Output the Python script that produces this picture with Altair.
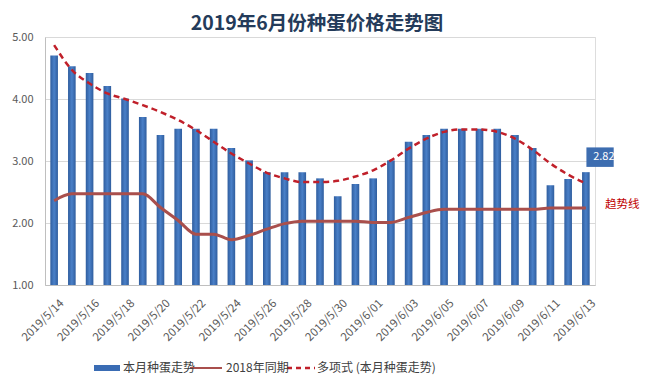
import altair as alt
import pandas as pd

dates = ["2019/5/14", "2019/5/15", "2019/5/16", "2019/5/17", "2019/5/18", "2019/5/19",
         "2019/5/20", "2019/5/21", "2019/5/22", "2019/5/23", "2019/5/24", "2019/5/25",
         "2019/5/26", "2019/5/27", "2019/5/28", "2019/5/29", "2019/5/30", "2019/5/31",
         "2019/6/01", "2019/6/02", "2019/6/03", "2019/6/04", "2019/6/05", "2019/6/06",
         "2019/6/07", "2019/6/08", "2019/6/09", "2019/6/10", "2019/6/11", "2019/6/12",
         "2019/6/13"]
this_month = [4.70, 4.53, 4.42, 4.21, 4.01, 3.71, 3.42, 3.52, 3.52, 3.52, 3.21, 3.01,
              2.82, 2.82, 2.82, 2.72, 2.43, 2.63, 2.72, 3.01, 3.31, 3.42, 3.52, 3.52,
              3.52, 3.52, 3.42, 3.21, 2.61, 2.71, 2.82]
last_year = [2.36, 2.47, 2.47, 2.47, 2.47, 2.47, 2.25, 2.04, 1.82, 1.82, 1.73, 1.80,
             1.90, 1.99, 2.03, 2.03, 2.03, 2.03, 2.01, 2.01, 2.09, 2.17, 2.22, 2.22,
             2.22, 2.22, 2.22, 2.22, 2.24, 2.24, 2.24]
trend = [4.87, 4.47, 4.25, 4.09, 4.00, 3.90, 3.79, 3.66, 3.50, 3.31, 3.12, 2.96,
         2.81, 2.72, 2.66, 2.66, 2.68, 2.75, 2.85, 3.01, 3.20, 3.36, 3.47, 3.51,
         3.51, 3.47, 3.36, 3.18, 2.96, 2.78, 2.64]
tick_labels = dates[::2]
y_ticks = [1.0, 1.5, 2.0, 2.5, 3.0, 3.5, 4.0, 4.5, 5.0]
title_text = "2019年6月份种蛋价格走势图"
legend_names = ["本月种蛋走势", "2018年同期", "多项式 (本月种蛋走势)"]

df = pd.DataFrame({"date": dates, "price": this_month, "ly": last_year, "trend": trend})

FONT = "Noto Sans CJK SC"
W, H = 550, 248

xenc = alt.X("date:N", sort=None,
             scale=alt.Scale(paddingInner=0.57, paddingOuter=0.3),
             axis=alt.Axis(title=None, values=tick_labels, labelAngle=-45,
                           labelFontSize=11.5, labelColor="#595959", labelFont=FONT,
                           ticks=False, domainColor="#BFBFBF", labelPadding=12,
                           labelOffset=4))
yscale = alt.Scale(domain=[1, 5], nice=False, zero=False)

base = alt.Chart(df)

bars = base.mark_bar(
    color=alt.Gradient(gradient="linear", x1=0, x2=1, y1=0, y2=0,
                       stops=[alt.GradientStop(color="#2F5D9E", offset=0),
                              alt.GradientStop(color="#4A80C8", offset=0.5),
                              alt.GradientStop(color="#2F5D9E", offset=1)])
).encode(
    x=xenc,
    y=alt.Y("price:Q", scale=yscale,
            axis=alt.Axis(title=None, values=y_ticks, format=".2f", labelFontSize=11,
                          labelColor="#595959", labelFont=FONT, ticks=False,
                          domainColor="#BFBFBF", gridColor="#D9D9D9", labelPadding=12)),
    y2=alt.datum(1),
)

ly_line = base.mark_line(color="#A94F4C", strokeWidth=3, interpolate="monotone").encode(
    x=alt.X("date:N", sort=None), y=alt.Y("ly:Q", scale=yscale))

trend_line = base.mark_line(color="#C0202A", strokeWidth=2.5, strokeDash=[6, 4],
                            interpolate="monotone").encode(
    x=alt.X("date:N", sort=None), y=alt.Y("trend:Q", scale=yscale))

last = df.tail(1)
label_box = alt.Chart(last).mark_point(
    shape="M-1.4,-1L1.4,-1L1.4,1L-1.4,1Z", filled=True, opacity=1,
    color="#3D6DB0", size=380).encode(
    x=alt.X("date:N", sort=None), y=alt.Y("price:Q", scale=yscale),
    xOffset=alt.value(18), yOffset=alt.value(-15))
label_text = alt.Chart(last).mark_text(color="white", fontSize=11, font=FONT, dx=18, dy=-15).encode(
    x=alt.X("date:N", sort=None), y=alt.Y("price:Q", scale=yscale),
    text=alt.Text("price:Q", format=".2f"))

trend_note = alt.Chart(pd.DataFrame({"t": ["趋势线"]})).mark_text(
    color="#C00000", fontSize=11.5, font=FONT, align="left").encode(
    text="t:N", x=alt.value(560), y=alt.value(168))

title = alt.Chart(pd.DataFrame({"t": [title_text]})).mark_text(
    fontSize=19.5, fontWeight="bold", font=FONT, color="#243B5A").encode(
    text="t:N", x=alt.value(W / 2 - 3), y=alt.value(-13))

# legend
leg_y = 331
leg_rect = alt.Chart(pd.DataFrame({"a": [0]})).mark_rect(color="#3A6CB4").encode(
    x=alt.value(49), x2=alt.value(75), y=alt.value(leg_y - 3), y2=alt.value(leg_y + 3))
leg_line = alt.Chart(pd.DataFrame({"a": [0]})).mark_rule(color="#A94F4C", strokeWidth=2).encode(
    x=alt.value(145), x2=alt.value(177), y=alt.value(leg_y))
leg_dash = alt.Chart(pd.DataFrame({"a": [0]})).mark_rule(color="#C0202A", strokeWidth=2.5,
                                                        strokeDash=[5, 4]).encode(
    x=alt.value(242), x2=alt.value(270), y=alt.value(leg_y))
leg_text = alt.Chart(pd.DataFrame({"t": legend_names, "px": [78, 181, 272]})).mark_text(
    align="left", fontSize=12, font=FONT, color="#404040").encode(
    text="t:N", x=alt.X("px:Q", scale=None), y=alt.value(leg_y))

chart = alt.layer(bars, ly_line, trend_line, label_box, label_text, trend_note, title,
                  leg_rect, leg_line, leg_dash, leg_text).properties(
    width=W, height=H,
    autosize=alt.AutoSizeParams(type="none"),
    padding={"left": 37, "top": 29, "right": 45, "bottom": 94},
).configure_view(stroke=None).configure(background="white")

chart.save("out.html", embed_options={"renderer": "svg", "actions": False})
